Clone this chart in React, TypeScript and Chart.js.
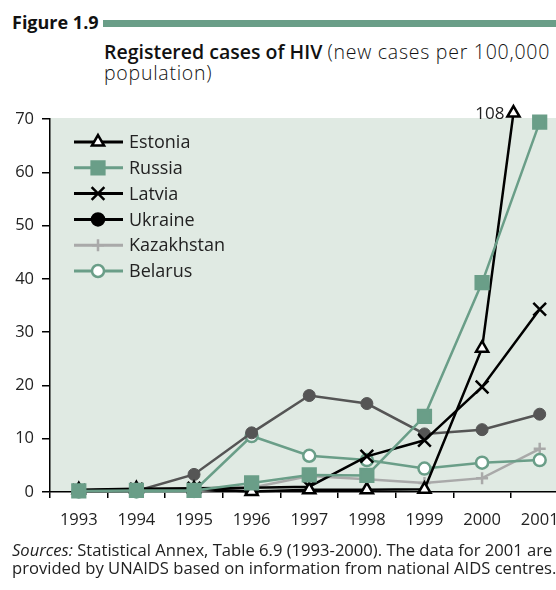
import React, { useEffect, useRef } from "react";
import { Chart, registerables } from "chart.js";
import { drawPoint } from "chart.js/helpers";

Chart.register(...registerables);

const years = ["1993", "1994", "1995", "1996", "1997", "1998", "1999", "2000", "2001"];
const estonia = [0.4, 0.6, 0.6, 0.1, 0.4, 0.4, 0.5, 27, 108];
const russia = [0.2, 0.3, 0.3, 1.7, 3.2, 3.1, 14.2, 39.3, 69.4];
const latvia = [0.3, 0.5, 0.7, 0.8, 1.0, 6.7, 9.7, 19.7, 34.3];
const ukraine = [0.1, 0.2, 3.3, 11.1, 18.1, 16.6, 10.9, 11.7, 14.6];
const kazakhstan = [0.1, 0.1, 0.2, 0.8, 3.0, 2.4, 1.7, 2.6, 8.1];
const belarus = [0.1, 0.1, 0.2, 10.5, 6.8, 6.0, 4.4, 5.5, 6.0];
const yMin = 0;
const yMax = 70;
const yStep = 10;
const offScaleLabel = "108";

const GREEN = "#6a9e88";
const BG = "#e0eae3";
const FONT = "'Open Sans', sans-serif";

type Series = {
  label: string;
  data: number[];
  color: string;
  legendColor: string;
  style: string;
  radius: number;
  fill: string;
  order: number;
  width: number;
};

const series: Series[] = [
  { label: "Estonia", data: estonia, color: "#000", legendColor: "#000", style: "triangle", radius: 7, fill: "#fff", order: 1, width: 2.5 },
  { label: "Russia", data: russia, color: GREEN, legendColor: GREEN, style: "rect", radius: 9, fill: GREEN, order: 0, width: 2.5 },
  { label: "Latvia", data: latvia, color: "#000", legendColor: "#000", style: "crossRot", radius: 9, fill: "#000", order: 2, width: 2.5 },
  { label: "Ukraine", data: ukraine, color: "#555", legendColor: "#000", style: "circle", radius: 6, fill: "#555", order: 3, width: 2.5 },
  { label: "Kazakhstan", data: kazakhstan, color: "#a9a9a9", legendColor: "#a9a9a9", style: "cross", radius: 6, fill: "#a9a9a9", order: 5, width: 2.5 },
  { label: "Belarus", data: belarus, color: GREEN, legendColor: GREEN, style: "circle", radius: 6, fill: "#fff", order: 4, width: 2.5 },
];

const bgPlugin = {
  id: "bgPlugin",
  beforeDraw(chart: any) {
    const { ctx, chartArea } = chart;
    ctx.save();
    ctx.fillStyle = BG;
    ctx.fillRect(chartArea.left, chartArea.top - 1, chartArea.right - chartArea.left, chartArea.bottom - chartArea.top + 1);
    ctx.restore();
  },
};

const overlayPlugin = {
  id: "overlayPlugin",
  afterDraw(chart: any) {
    const { ctx, chartArea } = chart;
    const meta = chart.getDatasetMeta(0);
    const p1 = meta.data[7];
    const p2 = meta.data[8];
    const yTop = chartArea.top - 6;
    const t = (p1.y - yTop) / (p1.y - p2.y);
    const xTop = p1.x + t * (p2.x - p1.x);
    ctx.save();
    ctx.lineWidth = 2.5;
    ctx.strokeStyle = "#000";
    ctx.fillStyle = "#fff";
    drawPoint(ctx, { pointStyle: "triangle", radius: 7, rotation: 0, borderWidth: 2.5 }, xTop, yTop);
    ctx.fillStyle = "#222";
    ctx.font = `17px ${FONT}`;
    ctx.textAlign = "right";
    ctx.textBaseline = "middle";
    ctx.fillText(offScaleLabel, xTop - 9, yTop + 1);
    ctx.restore();

    const x0 = 74;
    const x1 = 123;
    const xm = 98;
    const yStart = 142;
    const dy = 25.8;
    ctx.save();
    series.forEach((s, i) => {
      const y = yStart + i * dy;
      ctx.strokeStyle = s.legendColor;
      ctx.lineWidth = 3;
      ctx.beginPath();
      ctx.moveTo(x0, y);
      ctx.lineTo(x1, y);
      ctx.stroke();
      ctx.fillStyle = s.style === "circle" && s.fill !== "#fff" ? s.legendColor : s.fill;
      ctx.lineWidth = 2.5;
      drawPoint(ctx, { pointStyle: s.style, radius: s.radius, rotation: 0, borderWidth: 2.5 }, xm, y);
      ctx.fillStyle = "#222";
      ctx.font = `18px ${FONT}`;
      ctx.textAlign = "left";
      ctx.textBaseline = "middle";
      ctx.fillText(s.label, 129, y + 1);
    });
    ctx.restore();
  },
};

function ChartView() {
  const ref = useRef<HTMLCanvasElement>(null);
  useEffect(() => {
    if (!ref.current) return;
    const chart = new Chart(ref.current, {
      type: "line",
      data: {
        labels: years,
        datasets: series.map((s, i) => ({
          label: s.label,
          data: s.data,
          borderColor: s.color,
          backgroundColor: s.fill,
          borderWidth: s.width,
          pointStyle: s.style as any,
          pointRadius: s.radius,
          pointBorderColor: s.color,
          pointBackgroundColor: s.fill,
          pointBorderWidth: s.style === "circle" && s.fill !== "#fff" ? 1 : 2.5,
          tension: 0,
          order: s.order,
          clip: i === 0 ? { left: 10, top: 6, right: 10, bottom: 10 } : 10,
        })),
      },
      options: {
        responsive: false,
        animation: false,
        devicePixelRatio: 1,
        layout: { padding: { top: 119, left: 0, right: 8, bottom: 0 } },
        plugins: { legend: { display: false }, tooltip: { enabled: false } },
        scales: {
          x: {
            type: "category",
            offset: true,
            grid: { display: true, offset: true, drawOnChartArea: false, drawTicks: true, tickLength: 6, color: "#000", lineWidth: 1.5 },
            border: { display: true, color: "#000", width: 1.5 },
            ticks: { color: "#222", font: { family: FONT, size: 16.5 }, padding: 12, maxRotation: 0, autoSkip: false },
            afterFit: (s: any) => { s.height = 48; },
          },
          y: {
            min: yMin,
            max: yMax,
            grid: { display: true, drawOnChartArea: false, drawTicks: true, tickLength: 8, color: "#000", lineWidth: 1.5 },
            border: { display: true, color: "#000", width: 1.5 },
            ticks: { stepSize: yStep, color: "#222", font: { family: FONT, size: 16.5 }, padding: 8 },
            afterFit: (s: any) => { s.width = 50; },
          },
        },
      },
      plugins: [bgPlugin, overlayPlugin],
    });
    return () => chart.destroy();
  }, []);
  return <canvas ref={ref} width={580} height={540} style={{ position: "absolute", left: 0, top: 0, width: 580, height: 540 }} />;
}

export default function App() {
  return (
    <div style={{ position: "fixed", left: 0, top: 0, width: 556, height: 590, overflow: "hidden", background: "#fff", fontFamily: FONT, color: "#111" }}>
      <div style={{ position: "absolute", left: 12, top: 10, fontSize: 18, fontWeight: 700, lineHeight: "24px", whiteSpace: "nowrap" }}>Figure 1.9</div>
      <div style={{ position: "absolute", left: 103, top: 20, width: 460, height: 7, background: GREEN }} />
      <div style={{ position: "absolute", left: 104, top: 41, width: 480, fontSize: 19.5, lineHeight: "21px", color: "#111", whiteSpace: "nowrap" }}>
        <span style={{ fontWeight: 600 }}>Registered cases of HIV</span>{" "}
        <span style={{ color: "#111", fontWeight: 300, letterSpacing: "0.75px" }}>(new cases per 100,000</span>
        <br />
        <span style={{ color: "#111", fontWeight: 300, letterSpacing: "0.75px" }}>population)</span>
      </div>
      <ChartView />
      <div style={{ position: "absolute", left: 12, top: 541, width: 600, fontSize: 16.6, lineHeight: "17.5px", color: "#222", whiteSpace: "nowrap" }}>
        <div><i>Sources:</i> Statistical Annex, Table 6.9 (1993-2000). The data for 2001 are</div>
        <div>provided by UNAIDS based on information from national AIDS centres.</div>
      </div>
    </div>
  );
}
